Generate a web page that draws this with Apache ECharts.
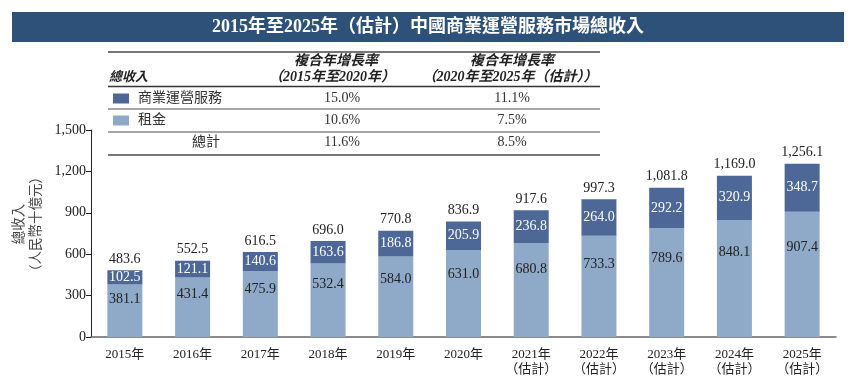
<!DOCTYPE html>
<html>
<head>
<meta charset="utf-8">
<script src="https://cdn.jsdelivr.net/npm/echarts@6/dist/echarts.min.js"></script>
<style>
html,body{margin:0;padding:0;background:#fff;}
#chart{width:853px;height:390px;}
</style>
</head>
<body>
<div id="chart"></div>
<script>
// ---- data ----
var categories = ['2015年','2016年','2017年','2018年','2019年','2020年','2021年\n（估計）','2022年\n（估計）','2023年\n（估計）','2024年\n（估計）','2025年\n（估計）'];
var rent = [381.1, 431.4, 475.9, 532.4, 584.0, 631.0, 680.8, 733.3, 789.6, 848.1, 907.4];
var service = [102.5, 121.1, 140.6, 163.6, 186.8, 205.9, 236.8, 264.0, 292.2, 320.9, 348.7];
var totals = [483.6, 552.5, 616.5, 696.0, 770.8, 836.9, 917.6, 997.3, 1081.8, 1169.0, 1256.1];
var yTicks = [0, 300, 600, 900, 1200, 1500];
var seriesNames = ['商業運營服務', '租金'];
var rowTotalName = '總計';
var cagr1 = ['15.0%', '10.6%', '11.6%'];
var cagr2 = ['11.1%', '7.5%', '8.5%'];
var titleText = '2015年至2025年（估計）中國商業運營服務市場總收入';
var headerCol0 = '總收入';
var headerCol1 = ['複合年增長率', '（2015年至2020年）'];
var headerCol2 = ['複合年增長率', '（2020年至2025年（估計））'];
var yAxisName = '總收入\n（人民幣十億元）';

// ---- style ----
var DARK = '#4d6896';
var LIGHT = '#8fa9c8';
var BANNER = '#2d5179';
var FONT = "'Liberation Serif', 'Noto Sans CJK TC', serif";

function fmt(v) {
  var s = v.toFixed(1);
  var parts = s.split('.');
  parts[0] = parts[0].replace(/\B(?=(\d{3})+(?!\d))/g, ',');
  return parts.join('.');
}

var chart = echarts.init(document.getElementById('chart'), null, {renderer: 'canvas'});

var graphics = [];
// banner
graphics.push({type: 'rect', left: 12, top: 12, shape: {width: 832, height: 30}, style: {fill: BANNER}, silent: true});
graphics.push({type: 'text', x: 428, y: 27.5, style: {text: titleText, fill: '#fff', font: 'bold 18px ' + FONT, textAlign: 'center', textVerticalAlign: 'middle'}, silent: true});

// table lines
var lineYs = [[52, 2, '#777'], [86.5, 1.5, '#333'], [109, 1.5, '#888'], [132, 1.5, '#888'], [155, 2, '#777']];
lineYs.forEach(function (l) {
  graphics.push({type: 'line', shape: {x1: 108, y1: l[0], x2: 600, y2: l[0]}, style: {stroke: l[2], lineWidth: l[1]}, silent: true});
});
// header texts
var hFont = 'italic bold 14px ' + FONT;
graphics.push({type: 'text', x: 109, y: 78, style: {text: headerCol0, fill: '#222', font: 'italic bold 13px ' + FONT, textAlign: 'left', textVerticalAlign: 'middle'}, silent: true});
graphics.push({type: 'text', x: 336, y: 61, style: {text: headerCol1[0], fill: '#222', font: hFont, textAlign: 'center', textVerticalAlign: 'middle'}, silent: true});
graphics.push({type: 'text', x: 332, y: 77, style: {text: headerCol1[1], fill: '#222', font: hFont, textAlign: 'center', textVerticalAlign: 'middle'}, silent: true});
graphics.push({type: 'text', x: 512, y: 61, style: {text: headerCol2[0], fill: '#222', font: hFont, textAlign: 'center', textVerticalAlign: 'middle'}, silent: true});
graphics.push({type: 'text', x: 510, y: 77, style: {text: headerCol2[1], fill: '#222', font: hFont, textAlign: 'center', textVerticalAlign: 'middle'}, silent: true});

// rows
var rowYs = [98.5, 120.5, 142];
var rFont = '14px ' + FONT;
[DARK, LIGHT].forEach(function (c, i) {
  graphics.push({type: 'rect', left: 113, top: rowYs[i] - 5, shape: {width: 16, height: 10}, style: {fill: c}, silent: true});
  graphics.push({type: 'text', x: 138, y: rowYs[i], style: {text: seriesNames[i], fill: '#333', font: rFont, textAlign: 'left', textVerticalAlign: 'middle'}, silent: true});
});
graphics.push({type: 'text', x: 206, y: rowYs[2], style: {text: rowTotalName, fill: '#333', font: rFont, textAlign: 'center', textVerticalAlign: 'middle'}, silent: true});
for (var r = 0; r < 3; r++) {
  graphics.push({type: 'text', x: 342, y: rowYs[r], style: {text: cagr1[r], fill: '#333', font: rFont, textAlign: 'center', textVerticalAlign: 'middle'}, silent: true});
  graphics.push({type: 'text', x: 512, y: rowYs[r], style: {text: cagr2[r], fill: '#333', font: rFont, textAlign: 'center', textVerticalAlign: 'middle'}, silent: true});
}
// y axis name
graphics.push({type: 'text', x: 28, y: 224, rotation: Math.PI / 2, style: {text: yAxisName, fill: '#444', font: '13.5px ' + FONT, textAlign: 'center', textVerticalAlign: 'middle', lineHeight: 17}, silent: true});

var option = {
  animation: false,
  backgroundColor: '#fff',
  textStyle: {fontFamily: FONT},
  grid: {left: 91, right: 17, top: 130, bottom: 53, containLabel: false},
  xAxis: {
    type: 'category',
    data: categories,
    axisLine: {lineStyle: {color: '#666', width: 1.5}},
    axisTick: {show: false},
    axisLabel: {color: '#222', fontSize: 13, fontFamily: FONT, margin: 10, lineHeight: 15, interval: 0}
  },
  yAxis: {
    type: 'value',
    min: yTicks[0],
    max: yTicks[yTicks.length - 1],
    interval: yTicks[1] - yTicks[0],
    splitLine: {show: false},
    axisLine: {show: true, lineStyle: {color: '#222', width: 1}},
    axisTick: {show: true, length: 5, lineStyle: {color: '#222'}},
    axisLabel: {color: '#222', fontSize: 14, fontFamily: FONT, margin: 5, formatter: function (v) { return fmt(v).replace('.0', ''); }}
  },
  series: [
    {
      name: seriesNames[1], type: 'bar', stack: 'a', data: rent, barWidth: 35,
      itemStyle: {color: LIGHT},
      label: {show: true, position: ['50%', '28%'], align: 'center', verticalAlign: 'middle', color: '#222', fontSize: 14, fontFamily: FONT, formatter: function (p) { return fmt(p.value); }}
    },
    {
      name: seriesNames[0], type: 'bar', stack: 'a', data: service, barWidth: 35,
      itemStyle: {color: DARK},
      label: {show: true, position: 'inside', color: '#fff', fontSize: 14, fontFamily: FONT, formatter: function (p) { return fmt(p.value); }}
    },
    {
      name: rowTotalName, type: 'bar', data: totals, barWidth: 35, barGap: '-100%', z: 1,
      itemStyle: {color: 'rgba(0,0,0,0)'}, silent: true,
      label: {show: true, position: 'top', distance: 4, color: '#222', fontSize: 14, fontFamily: FONT, formatter: function (p) { return fmt(p.value); }}
    }
  ],
  graphic: graphics
};
chart.setOption(option);
</script>
</body>
</html>
